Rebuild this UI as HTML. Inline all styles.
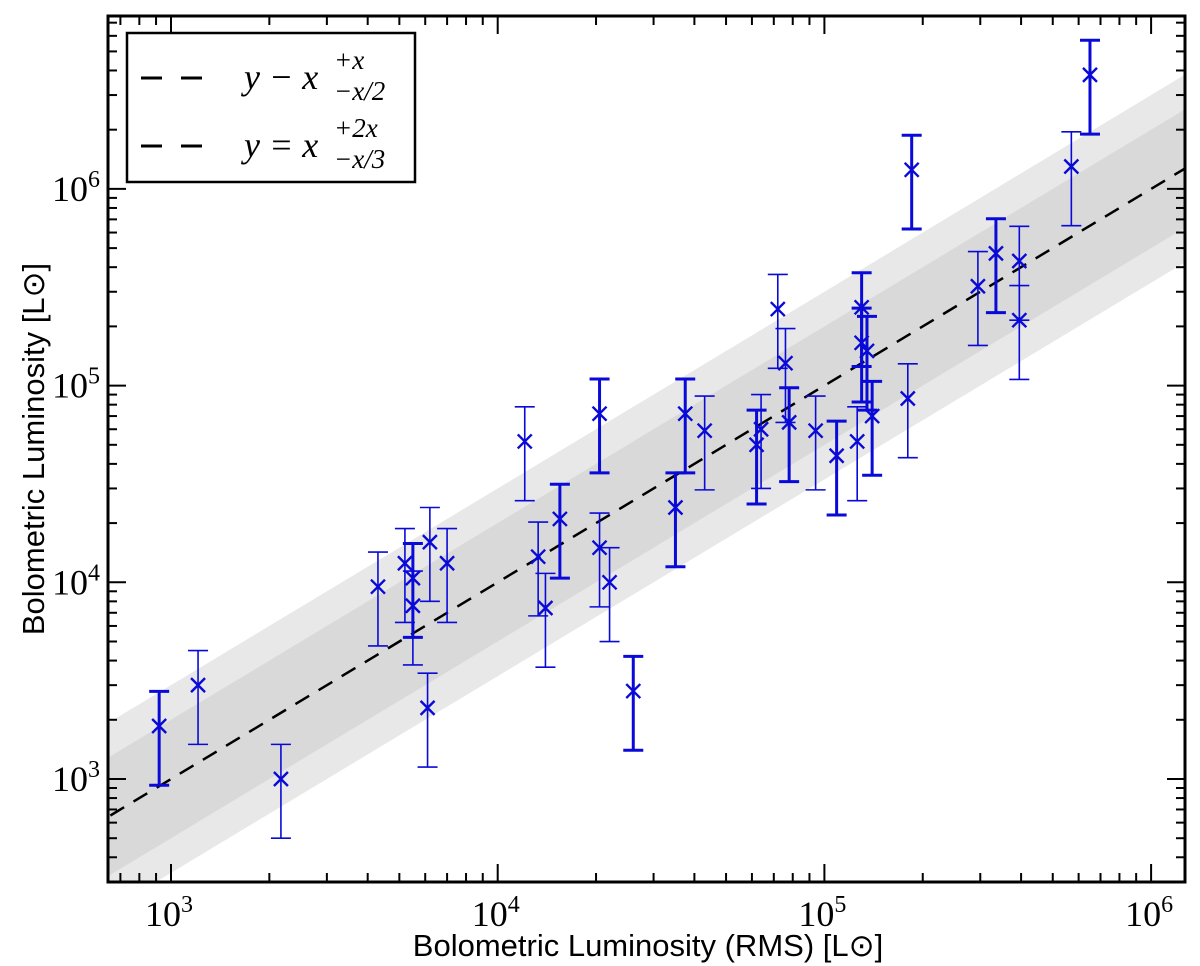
<!DOCTYPE html>
<html><head><meta charset="utf-8"><style>
body{margin:0;background:#fff;}
svg{display:block;}
.tick{font-family:"Liberation Serif",serif;font-size:36px;}
.lab{font-family:"Liberation Sans",sans-serif;font-size:31px;}
</style></head><body>
<svg id="c" width="1200" height="966" viewBox="0 0 1200 966"></svg>
<script>
const xVals=[920,1210,2170,4300,5200,5500,5500,6200,6100,7000,12100,13300,14000,15500,20500,20500,22000,26000,35000,37500,43000,62000,64000,72000,76000,78000,94000,109000,126000,130000,130000,135000,140000,180000,185000,295000,335000,395000,395000,570000,650000];
const yVals=[1860,3000,1000,9500,12500,10500,7600,16000,2300,12500,52000,13500,7400,21000,72000,15000,10000,2800,24000,72000,59000,50000,60000,245000,130000,65000,59000,44000,52000,250000,165000,150000,70000,86000,1250000,320000,470000,430000,215000,1300000,3800000];
const thick=[1,0,0,0,0,1,0,0,0,0,0,0,0,1,1,0,0,1,1,1,0,1,0,0,0,1,0,1,0,1,1,1,1,0,1,0,1,0,0,0,1];
const xTicks=[3,4,5,6];
const yTicks=[3,4,5,6];
const L=108,R=1185,T=16,B=882;
const X=v=>171+(Math.log10(v)-3)*326.7;
const Y=v=>779-(Math.log10(v)-3)*196.7;
const svg=document.getElementById('c');
const NS='http://www.w3.org/2000/svg';
function mk(t,a,p){const e=document.createElementNS(NS,t);for(const k in a)e.setAttribute(k,a[k]);(p||svg).appendChild(e);return e;}
const clip=mk('clipPath',{id:'pc'});mk('rect',{x:L,y:T,width:R-L,height:B-T},clip);
const g=mk('g',{'clip-path':'url(#pc)'});
const x0=400,x1=3e6;
function band(f1,f2,fill,name){const p=mk('polygon',{points:`${X(x0)},${Y(x0*f1)} ${X(x1)},${Y(x1*f1)} ${X(x1)},${Y(x1*f2)} ${X(x0)},${Y(x0*f2)}`,fill:fill},g);

}
band(3,1/3,'#e8e8e8','outer-band');
band(2,1/2,'#d9d9d9','inner-band');
const dl=mk('line',{x1:X(x0),y1:Y(x0),x2:X(x1),y2:Y(x1),stroke:'#000','stroke-width':2.5,'stroke-dasharray':'16,11'},g);


const col='#0a0ad8';
for(let i=0;i<xVals.length;i++){
 const px=X(xVals[i]),py=Y(yVals[i]),up=Y(yVals[i]*1.5),lo=Y(yVals[i]*0.5),w=thick[i]?3:1.6;
 const pg=mk('g',{},g);
 
 
 mk('line',{x1:px,y1:up,x2:px,y2:lo,stroke:col,'stroke-width':w},pg);
 mk('line',{x1:px-10,y1:up,x2:px+10,y2:up,stroke:col,'stroke-width':w},pg);
 mk('line',{x1:px-10,y1:lo,x2:px+10,y2:lo,stroke:col,'stroke-width':w},pg);
 mk('path',{d:`M${px-7},${py-7}L${px+7},${py+7}M${px-7},${py+7}L${px+7},${py-7}`,stroke:col,'stroke-width':2.4,fill:'none'},pg);
}
const fr=mk('rect',{x:L,y:T,width:R-L,height:B-T,fill:'none',stroke:'#000','stroke-width':3});


for(let d=2;d<=6;d++)for(let m=1;m<10;m++){
 const v=m*Math.pow(10,d),px=X(v);if(px>L&&px<R){const len=m==1?18:9;
 mk('line',{x1:px,y1:B,x2:px,y2:B-len,stroke:'#000','stroke-width':2});mk('line',{x1:px,y1:T,x2:px,y2:T+len,stroke:'#000','stroke-width':2});}
 const py=Y(v);if(py>T&&py<B){const len=m==1?18:9;
 mk('line',{x1:L,y1:py,x2:L+len,y2:py,stroke:'#000','stroke-width':2});mk('line',{x1:R,y1:py,x2:R-len,y2:py,stroke:'#000','stroke-width':2});}
}
xTicks.forEach(e=>{const t=mk('text',{x:X(Math.pow(10,e))-2,y:926,'text-anchor':'middle',class:'tick'});t.innerHTML=`10<tspan dy="-14" font-size="24">${e}</tspan>`;

});
yTicks.forEach(e=>{const t=mk('text',{x:100,y:Y(Math.pow(10,e))+12,'text-anchor':'end',class:'tick'});t.innerHTML=`10<tspan dy="-14" font-size="24">${e}</tspan>`;

});
const xl=mk('text',{x:648,y:956,'text-anchor':'middle',class:'lab'});xl.textContent='Bolometric Luminosity (RMS) [L\u2299]';


const yl=mk('text',{x:0,y:0,'text-anchor':'middle',class:'lab',transform:'translate(44,449) rotate(-90)'});yl.textContent='Bolometric Luminosity [L\u2299]';


const lg=mk('g',{});


mk('rect',{x:127,y:33,width:288,height:149,fill:'#fff',stroke:'#000','stroke-width':2.5},lg);
[[78,'y − x','+x','−x/2'],[146,'y = x','+2x','−x/3']].forEach(r=>{
 mk('line',{x1:141,y1:r[0],x2:202,y2:r[0],stroke:'#000','stroke-width':3,'stroke-dasharray':'21,19'},lg);
 const t=mk('text',{x:244,y:r[0]+11,class:'tick','font-style':'italic'},lg);t.textContent=r[1];
 
 
 const s=mk('text',{x:334,y:r[0]-9,class:'tick','font-style':'italic'},lg);s.setAttribute('style','font-size:27px');s.textContent=r[2];
 const b=mk('text',{x:334,y:r[0]+22,class:'tick','font-style':'italic'},lg);b.setAttribute('style','font-size:27px');b.textContent=r[3];
});
</script>
</body></html>
